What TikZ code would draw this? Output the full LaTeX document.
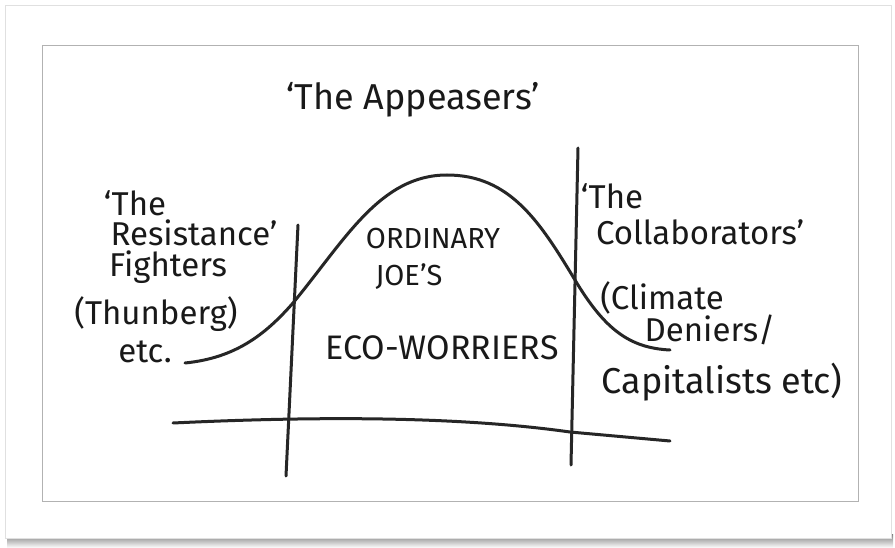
\documentclass[tikz,border=0pt]{standalone}
\usepackage{fontspec}
\setmainfont{Fira Sans}
\begin{document}
\begin{tikzpicture}[x=1pt,y=-1pt,
    pen/.style={line width=3pt,line cap=round,color=black!85},
    ink/.style={text=black!90,inner sep=0pt,align=center},
    big/.style={font=\fontsize{36}{38}\selectfont},
    hand/.style={font=\fontsize{33}{35}\selectfont},
    caps/.style={font=\fontsize{29}{31}\selectfont},
    bigcaps/.style={font=\fontsize{34}{36}\selectfont}]
\useasboundingbox (0,0) rectangle (895,548);
% card with its shadow, and the photo
\shade[top color=black!50,bottom color=white] (7,534) rectangle (893,548);
\draw[black!12,fill=white] (5,5) rectangle (891,538);
\draw[black!30] (42,45) rectangle (858,501);

\coordinate (lt) at (298,225);
\coordinate (lb) at (286,476);
\coordinate (rt) at (578,148);
\coordinate (rb) at (571,465);
\coordinate (al) at (173,423);
\coordinate (ar) at (670,441);
\coordinate (cs) at (185,363);
\coordinate (ce) at (670,350);

\draw[pen] (lt) -- (lb);
\draw[pen] (rt) -- (rb);
\draw[pen] (al) .. controls (300,417) and (450,415) .. (570,432) -- (ar);
\draw[pen] (cs) .. controls (235,358) and (265,335) .. (293,303)
    .. controls (345,240) and (380,175) .. (447,175)
    .. controls (510,175) and (540,222) .. (575,280)
    .. controls (605,330) and (630,348) .. (ce);

\node[ink,big] (appease) at (413,100) {`The Appeasers'};

\node[ink,hand] (lq) at (135,203) {`The};
\node[ink,hand] (res) at (194,233) {Resistance'};
\node[ink,hand] (fig) at (168,267) {Fighters};
\node[ink,hand] (thu) at (156,314) {(Thunberg)};
\node[ink,hand] (etc) at (145,352) {etc.};

\node[ink,caps] (ord) at (433,239) {ORDINARY};
\node[ink,caps] (joe) at (409,277) {JOE'S};
\node[ink,bigcaps] (eco) at (442,348) {ECO-WORRIERS};

\node[ink,hand] (rq) at (612,196) {`The};
\node[ink,hand] (col) at (700,232) {Collaborators'};
\node[ink,hand] (cli) at (662,298) {(Climate};
\node[ink,hand] (den) at (710,330) {Deniers/};
\node[ink,big] (cap) at (722,382) {Capitalists etc)};
\end{tikzpicture}
\end{document}
